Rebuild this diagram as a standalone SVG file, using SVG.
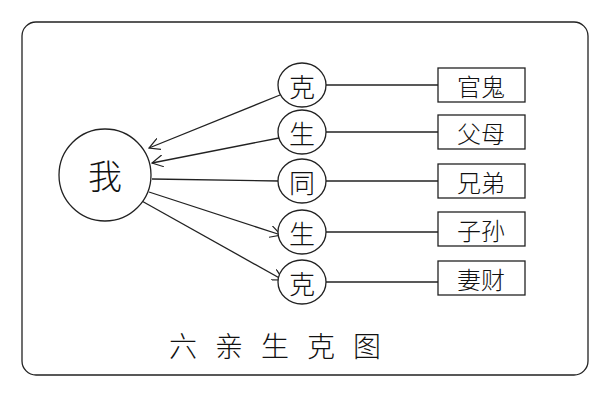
<svg xmlns="http://www.w3.org/2000/svg" width="600" height="400" viewBox="0 0 600 400">
<style>
.s{fill:none;stroke:#222;stroke-width:1.3}
.c{fill:#fff;stroke:#222;stroke-width:1.3}
.t{font-family:"Noto Sans CJK SC",sans-serif;fill:#111;text-anchor:middle;dominant-baseline:central;font-weight:300}
</style>
<defs><marker id="a" viewBox="0 0 12 12" refX="11" refY="6" markerWidth="12" markerHeight="12" markerUnits="userSpaceOnUse" orient="auto"><path d="M0,0 L11,6 L0,12" fill="none" stroke="#222" stroke-width="1.2"/></marker></defs>
<rect width="600" height="400" fill="#fff"/>
<rect x="22" y="22" width="566" height="353" rx="14" class="s" stroke-width="1.6"/>
<g id="connectors">
<line class="s" x1="280" y1="95" x2="149" y2="148" marker-end="url(#a)"/>
<line class="s" x1="279" y1="138" x2="152" y2="163" marker-end="url(#a)"/>
<line class="s" x1="152" y1="179" x2="279" y2="181"/>
<line class="s" x1="149" y1="192" x2="281" y2="235" marker-end="url(#a)"/>
<line class="s" x1="140" y1="200" x2="283" y2="280" marker-end="url(#a)"/>
<line class="s" x1="325" y1="85" x2="438" y2="85"/>
<line class="s" x1="325" y1="132" x2="438" y2="132"/>
<line class="s" x1="325" y1="181" x2="438" y2="181"/>
<line class="s" x1="325" y1="232" x2="438" y2="232"/>
<line class="s" x1="325" y1="282" x2="438" y2="282"/>
</g>
<g id="wo"><circle class="c" cx="105" cy="175" r="46"/><text class="t" x="105" y="174" font-size="34">我</text></g>
<g id="n1"><ellipse class="c" cx="302" cy="85" rx="24" ry="22"/><text class="t" x="302" y="85" font-size="26">克</text></g>
<g id="n2"><ellipse class="c" cx="302" cy="132" rx="24" ry="22"/><text class="t" x="302" y="132" font-size="26">生</text></g>
<g id="n3"><ellipse class="c" cx="302" cy="181" rx="24" ry="22"/><text class="t" x="302" y="181" font-size="26">同</text></g>
<g id="n4"><ellipse class="c" cx="302" cy="232" rx="24" ry="22"/><text class="t" x="302" y="232" font-size="26">生</text></g>
<g id="n5"><ellipse class="c" cx="302" cy="282" rx="24" ry="22"/><text class="t" x="302" y="282" font-size="26">克</text></g>
<g id="b1"><rect class="c" x="438" y="68" width="87" height="34"/><text class="t" x="481" y="85" font-size="24">官鬼</text></g>
<g id="b2"><rect class="c" x="438" y="115" width="87" height="34"/><text class="t" x="481" y="132" font-size="24">父母</text></g>
<g id="b3"><rect class="c" x="438" y="164" width="87" height="34"/><text class="t" x="481" y="181" font-size="24">兄弟</text></g>
<g id="b4"><rect class="c" x="438" y="212" width="87" height="34"/><text class="t" x="481" y="229" font-size="24">子孙</text></g>
<g id="b5"><rect class="c" x="438" y="261" width="87" height="34"/><text class="t" x="481" y="278" font-size="24">妻财</text></g>
<text class="t" x="284" y="345" font-size="28" letter-spacing="18">六亲生克图</text>
</svg>
